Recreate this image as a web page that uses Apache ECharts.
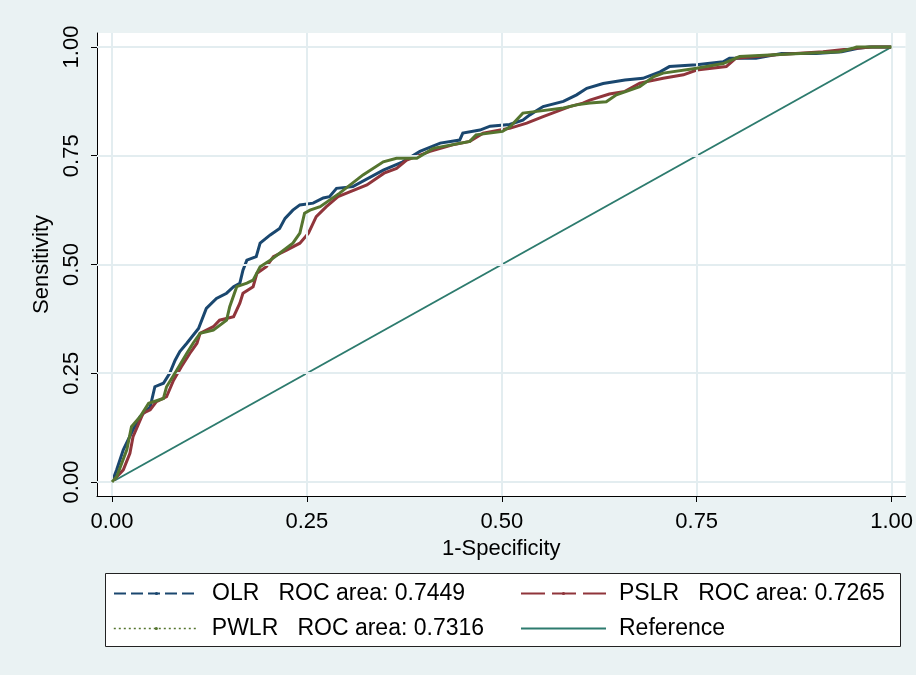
<!DOCTYPE html>
<html>
<head>
<meta charset="utf-8">
<script src="https://cdn.jsdelivr.net/npm/echarts@6.0.0/dist/echarts.min.js"></script>
<style>
html,body{margin:0;padding:0;background:#EAF2F3;}
#chart{width:916px;height:675px;}
</style>
</head>
<body>
<div id="chart"></div>
<script>
// ---- data ----
const tickValues = [0, 0.25, 0.5, 0.75, 1];
const seriesNames = ['OLR', 'PSLR', 'PWLR', 'Reference'];
const rocAreas = ['0.7449', '0.7265', '0.7316', null];

const olr = [[0,0],[.006,.028],[.0145,.074],[.027,.12],[.036,.150],[.049,.173],[.055,.219],[.066,.227],[.074,.250],[.081,.280],[.087,.300],[.096,.319],[.111,.353],[.121,.399],[.134,.422],[.147,.434],[.156,.449],[.164,.457],[.168,.487],[.173,.510],[.185,.518],[.190,.549],[.203,.568],[.215,.583],[.222,.606],[.232,.625],[.241,.637],[.258,.641],[.271,.653],[.279,.656],[.288,.675],[.309,.679],[.348,.717],[.373,.736],[.395,.760],[.421,.779],[.446,.786],[.450,.802],[.472,.809],[.485,.818],[.510,.822],[.527,.832],[.536,.844],[.553,.863],[.579,.875],[.596,.890],[.609,.905],[.630,.916],[.658,.924],[.681,.928],[.703,.943],[.715,.955],[.750,.959],[.784,.966],[.792,.974],[.826,.974],[.859,.985],[.903,.985],[.936,.989],[.957,.997],[.972,1.0],[1,1]];

const pslr = [[0,0],[.0145,.028],[.023,.066],[.027,.104],[.040,.158],[.049,.166],[.057,.185],[.070,.196],[.079,.234],[.089,.265],[.100,.296],[.109,.319],[.113,.342],[.130,.357],[.138,.372],[.156,.380],[.164,.411],[.168,.434],[.181,.449],[.186,.480],[.198,.495],[.207,.518],[.224,.533],[.241,.549],[.252,.572],[.262,.610],[.275,.633],[.290,.656],[.301,.664],[.327,.683],[.349,.710],[.365,.721],[.378,.740],[.408,.760],[.437,.775],[.459,.783],[.476,.802],[.510,.813],[.532,.825],[.553,.840],[.587,.863],[.604,.871],[.613,.878],[.638,.892],[.658,.898],[.677,.917],[.707,.928],[.733,.936],[.750,.947],[.788,.955],[.800,.974],[.852,.982],[.912,.989],[.954,.997],[.975,1.0],[1,1]];

const pwlr = [[0,0],[.006,.012],[.019,.074],[.025,.127],[.036,.150],[.047,.181],[.066,.192],[.070,.219],[.083,.257],[.096,.296],[.104,.319],[.113,.342],[.130,.349],[.147,.372],[.151,.403],[.160,.449],[.173,.457],[.181,.464],[.190,.495],[.203,.510],[.215,.526],[.232,.549],[.241,.572],[.247,.618],[.254,.625],[.267,.633],[.279,.648],[.292,.664],[.322,.706],[.348,.736],[.365,.744],[.391,.744],[.412,.767],[.459,.783],[.467,.798],[.501,.806],[.511,.817],[.527,.848],[.545,.852],[.579,.860],[.596,.867],[.613,.871],[.634,.874],[.647,.890],[.677,.909],[.695,.932],[.707,.940],[.750,.951],[.784,.962],[.805,.978],[.869,.984],[.933,.989],[.950,.997],[.955,1.0],[1,1]];

const reference = [[0,0],[1,1]];

// ---- styles ----
const FONT = 'Liberation Sans, Arial, Helvetica, sans-serif';
const colors = ['#1A476F', '#90353B', '#55752F', '#2D7B6E'];
const legendDash = [[12,5], [24,7], [2,3], 'solid'];
const legendPos = [[113,582],[520,582],[113,617],[520,617]];

const chart = echarts.init(document.getElementById('chart'), null, {renderer:'canvas'});

const xMin = -15/780, xMax = 1 + 14/780;
const yMin = -14/435, yMax = 1 + 14/435;

function axisCommon(isX) {
  return {
    type: 'value',
    min: isX ? xMin : yMin,
    max: isX ? xMax : yMax,
    axisLine: {show: true, onZero: false, lineStyle: {color: '#000', width: 1}},
    axisTick: {show: true, customValues: tickValues, length: 6, lineStyle: {color: '#000', width: 1}},
    axisLabel: {
      customValues: tickValues,
      formatter: v => v.toFixed(2),
      color: '#000', fontFamily: FONT, fontSize: 22,
      margin: isX ? 15 : 14,
      rotate: isX ? 0 : 90
    },
    splitLine: {show: false},
    nameLocation: 'middle',
    nameTextStyle: {color: '#000', fontFamily: FONT, fontSize: 22},
  };
}

const xAxis = Object.assign(axisCommon(true), {name: '1-Specificity', nameGap: 39});
const yAxis = Object.assign(axisCommon(false), {name: 'Sensitivity', nameGap: 38});

const curveData = [olr, pslr, pwlr];
const series = [];

// grid lines via markLine on a hidden helper series
series.push({
  type: 'line', data: [], silent: true, z: 1,
  markLine: {
    silent: true, symbol: 'none', animation: false,
    label: {show: false},
    lineStyle: {color: '#E3EDF0', width: 2, type: 'solid'},
    data: tickValues.map(v => ({xAxis: v})).concat(tickValues.map(v => ({yAxis: v})))
  }
});

series.push({
  name: seriesNames[3], type: 'line', data: reference, symbol: 'circle', showSymbol: false,
  lineStyle: {color: colors[3], width: 2}, itemStyle: {color: colors[3]}, z: 2, silent: true
});
for (let i = 0; i < 3; i++) {
  series.push({
    name: seriesNames[i], type: 'line', data: curveData[i], symbol: 'circle', showSymbol: false,
    lineStyle: {color: colors[i], width: 3, join: 'miter'}, itemStyle: {color: colors[i]}, z: 3 + i, silent: true
  });
}

const legends = seriesNames.map((n, i) => ({
  data: [n],
  left: legendPos[i][0], top: legendPos[i][1],
  padding: 0,
  itemWidth: 85, itemHeight: 4,
  icon: undefined,
  selectedMode: false,
  itemGap: 0,
  lineStyle: {type: legendDash[i], width: i === 2 ? 1.6 : 2, color: colors[i]},
  itemStyle: {color: colors[i], borderWidth: 0, opacity: i === 3 ? 0 : 1},
  textStyle: {color: '#000', fontFamily: FONT, fontSize: 23, padding: [0,0,0,8]},
  formatter: name => {
    const k = seriesNames.indexOf(name);
    return rocAreas[k] ? name + '   ROC area: ' + rocAreas[k] : name;
  }
}));

chart.setOption({
  animation: false,
  backgroundColor: '#EAF2F3',
  grid: {left: 97, right: 10, top: 33, bottom: 179, show: true, backgroundColor: '#FFFFFF', borderWidth: 0},
  xAxis: xAxis,
  yAxis: yAxis,
  legend: legends,
  graphic: [{
    type: 'rect', z: -1, silent: true,
    shape: {x: 105.5, y: 573.5, width: 795, height: 73},
    style: {fill: '#FFFFFF', stroke: '#222', lineWidth: 1}
  }],
  series: series
});
</script>
</body>
</html>
